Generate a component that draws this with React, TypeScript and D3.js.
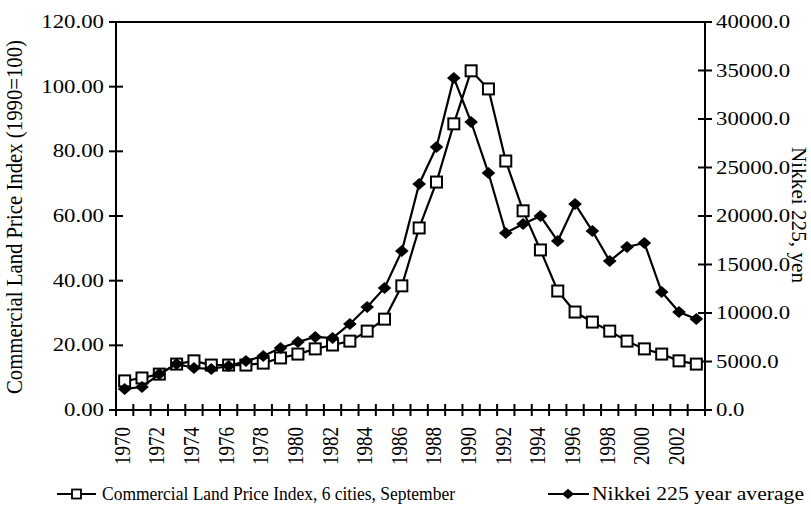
import React, { useRef, useEffect } from "react";
import * as d3 from "d3";

// years on the category axis
const years = [
  "1970", "1971", "1972", "1973", "1974", "1975", "1976", "1977", "1978", "1979",
  "1980", "1981", "1982", "1983", "1984", "1985", "1986", "1987", "1988", "1989",
  "1990", "1991", "1992", "1993", "1994", "1995", "1996", "1997", "1998", "1999",
  "2000", "2001", "2002", "2003",
];

// Commercial land price index, 6 cities, September (1990=100)
const landIndex = [
  9.0, 9.9, 11.1, 14.2, 15.2, 13.9, 13.9, 13.9, 14.5, 16.1,
  17.3, 18.9, 20.1, 21.3, 24.4, 28.1, 38.4, 56.3, 70.5, 88.5,
  104.9, 99.3, 77.0, 61.6, 49.5, 36.8, 30.3, 27.2, 24.4, 21.3,
  18.9, 17.3, 15.2, 14.2,
];

// Nikkei 225 year average, yen
const nikkei = [
  2170, 2370, 3710, 4740, 4330, 4230, 4540, 5050, 5570, 6390,
  7010, 7530, 7420, 8870, 10620, 12580, 16390, 23300, 27110, 34230,
  29690, 24430, 18250, 19180, 20000, 17420, 21240, 18450, 15360, 16800,
  17220, 12160, 10100, 9380,
];

const leftTicks = [0, 20, 40, 60, 80, 100, 120];
const rightTicks = [0, 5000, 10000, 15000, 20000, 25000, 30000, 35000, 40000];
const labelYears = years.filter((y, i) => i % 2 === 0);

const leftTitle = "Commercial Land Price Index (1990=100)";
const rightTitle = "Nikkei 225, yen";
const legendLand = "Commercial Land Price Index, 6 cities, September";
const legendNikkei = "Nikkei 225 year average";

const FONT = "'Liberation Serif', 'Times New Roman', serif";
const SX = 1.2; // the scanned figure is stretched sideways

const App = () => {
  const svgRef = useRef<SVGSVGElement>(null);
  const width = 811;
  const height = 509;

  useEffect(() => {
    document.body.style.margin = "0";
    const svg = d3.select(svgRef.current);
    svg.selectAll("*").remove();

    const plot = { left: 116, right: 705, top: 22, bottom: 410 };

    const x = d3.scaleBand().domain(years).range([plot.left, plot.right]);
    const cx = (d: string) => (x(d) as number) + x.bandwidth() / 2;
    const yL = d3.scaleLinear().domain([0, 120]).range([plot.bottom, plot.top]);
    const yR = d3.scaleLinear().domain([0, 40000]).range([plot.bottom, plot.top]);

    // helper for (optionally stretched) text
    const text = (
      px: number, py: number, str: string,
      opts: { anchor?: string; rot?: number; size?: number; length?: number; sx?: number } = {}
    ) => {
      const sx = opts.sx ?? SX;
      const g = svg.append("g")
        .attr("transform", `translate(${px},${py}) scale(${sx},1) rotate(${opts.rot || 0})`);
      const t = g.append("text")
        .attr("font-family", FONT)
        .attr("font-size", opts.size || 19)
        .attr("text-anchor", opts.anchor || "start")
        .attr("fill", "#000")
        .text(str);
      if (opts.length) t.attr("textLength", opts.length).attr("lengthAdjust", "spacingAndGlyphs");
      return t;
    };

    const ax = svg.append("g").attr("stroke", "#000").attr("stroke-width", 2);
    // frame lines: left, right, top, bottom
    ax.append("line").attr("x1", plot.left).attr("x2", plot.left).attr("y1", plot.top).attr("y2", plot.bottom);
    ax.append("line").attr("x1", plot.right).attr("x2", plot.right).attr("y1", plot.top).attr("y2", plot.bottom);
    ax.append("line").attr("x1", plot.left).attr("x2", plot.right).attr("y1", plot.top).attr("y2", plot.top);
    ax.append("line").attr("x1", plot.left - 7).attr("x2", plot.right + 7).attr("y1", plot.bottom).attr("y2", plot.bottom);

    // left ticks + labels
    leftTicks.forEach(v => {
      ax.append("line").attr("x1", plot.left - 7).attr("x2", plot.left + 7).attr("y1", yL(v)).attr("y2", yL(v));
      text(104, yL(v) + 6, v.toFixed(2), { anchor: "end" });
    });

    // right ticks + labels
    rightTicks.forEach(v => {
      ax.append("line").attr("x1", plot.right - 7).attr("x2", plot.right + 7).attr("y1", yR(v)).attr("y2", yR(v));
      text(716, yR(v) + 6, v.toFixed(1));
    });

    // x ticks at category boundaries
    const bounds = years.map(d => x(d) as number).concat([plot.right]);
    bounds.forEach(b => {
      ax.append("line").attr("x1", b).attr("x2", b).attr("y1", plot.bottom - 6).attr("y2", plot.bottom + 6);
    });

    labelYears.forEach(d => {
      text(cx(d) + 5, 427, d, { anchor: "end", rot: -90 });
    });

    // axis titles
    text(22, 217, leftTitle, { anchor: "middle", rot: -90, length: 354, size: 18.5 });
    text(792, 215, rightTitle, { anchor: "middle", rot: 90, length: 136, size: 17.5, sx: 1.15 });

    // series
    const lineL = d3.line<number>().x((d, i) => cx(years[i])).y(d => yL(d));
    const lineR = d3.line<number>().x((d, i) => cx(years[i])).y(d => yR(d));

    svg.append("path").datum(landIndex)
      .attr("fill", "none").attr("stroke", "#000").attr("stroke-width", 2.2)
      .attr("d", lineL);
    svg.append("g").selectAll("rect").data(landIndex).join("rect")
      .attr("x", (d, i) => cx(years[i]) - 5.5)
      .attr("y", d => yL(d) - 5.5)
      .attr("width", 11).attr("height", 11)
      .attr("fill", "#fff").attr("stroke", "#000").attr("stroke-width", 2);

    svg.append("path").datum(nikkei)
      .attr("fill", "none").attr("stroke", "#000").attr("stroke-width", 2.2)
      .attr("d", lineR);
    const diamond = d3.symbol().type(d3.symbolDiamond2).size(90);
    svg.append("g").selectAll("path").data(nikkei).join("path")
      .attr("transform", (d, i) => `translate(${cx(years[i])},${yR(d)}) scale(1.15,1)`)
      .attr("d", diamond)
      .attr("fill", "#000");

    // legend
    const lg = svg.append("g");
    lg.append("line").attr("x1", 57).attr("x2", 96).attr("y1", 494).attr("y2", 494)
      .attr("stroke", "#000").attr("stroke-width", 2);
    lg.append("rect").attr("x", 72).attr("y", 489.5).attr("width", 9).attr("height", 9)
      .attr("fill", "#fff").attr("stroke", "#000").attr("stroke-width", 1.8);
    text(102, 500, legendLand, { length: 353, sx: 1, size: 19.5 });

    lg.append("line").attr("x1", 548).attr("x2", 589).attr("y1", 494).attr("y2", 494)
      .attr("stroke", "#000").attr("stroke-width", 2);
    lg.append("path").attr("transform", "translate(568,494) scale(1.15,1)")
      .attr("d", d3.symbol().type(d3.symbolDiamond2).size(70)).attr("fill", "#000");
    text(592, 500, legendNikkei, { length: 212, sx: 1, size: 19.5 });
  }, []);

  return (
    <svg
      ref={svgRef}
      width={width}
      height={height}
      style={{ display: "block", background: "#fff" }}
    ></svg>
  );
};

export default App;
